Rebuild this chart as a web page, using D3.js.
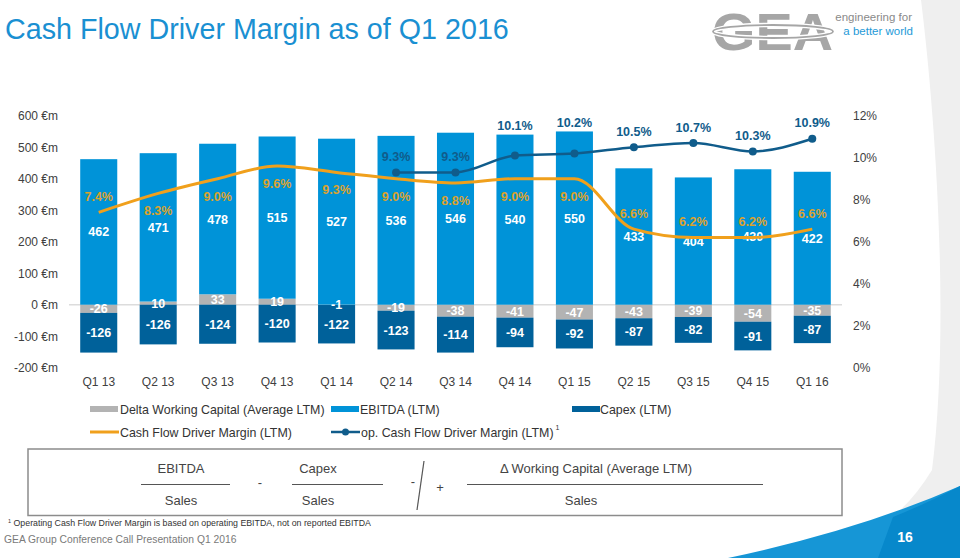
<!DOCTYPE html>
<html><head><meta charset="utf-8">
<script src="https://cdn.jsdelivr.net/npm/d3@7"></script>
<style>
html,body{margin:0;padding:0;background:#fff;}
svg{display:block;font-family:"Liberation Sans",Arial,Helvetica,sans-serif;}
</style></head><body>
<svg id="c" width="960" height="558"></svg>
<script>
const categories = ["Q1 13","Q2 13","Q3 13","Q4 13","Q1 14","Q2 14","Q3 14","Q4 14","Q1 15","Q2 15","Q3 15","Q4 15","Q1 16"];
const ebitda  = [462, 471, 478, 515, 527, 536, 546, 540, 550, 433, 404, 430, 422];
const deltaWC = [-26, 10, 33, 19, -1, -19, -38, -41, -47, -43, -39, -54, -35];
const capex   = [-126, -126, -124, -120, -122, -123, -114, -94, -92, -87, -82, -91, -87];
const cfdm    = [7.4, 8.3, 9.0, 9.6, 9.3, 9.0, 8.8, 9.0, 9.0, 6.6, 6.2, 6.2, 6.6];
const opCfdm  = [null, null, null, null, null, 9.3, 9.3, 10.1, 10.2, 10.5, 10.7, 10.3, 10.9];
const leftTicks  = [-200, -100, 0, 100, 200, 300, 400, 500, 600];
const rightTicks = [0, 2, 4, 6, 8, 10, 12];
const seriesNames = ["Delta Working Capital (Average LTM)", "EBITDA (LTM)", "Capex (LTM)", "Cash Flow Driver Margin (LTM)", "op. Cash Flow Driver Margin (LTM)"];

const FONT = '"Liberation Sans", Arial, Helvetica, sans-serif';
const C = {wc:"#b3b3b3", ebitda:"#0093d8", capex:"#00619a", orange:"#f0a01c", orangeText:"#dba22e", op:"#105c8b", text:"#404040"};

const svg = d3.select("#c");

// background decorations
svg.append("path").attr("d","M921,0 C936,120 950,330 932,470 Q912,503 887,521 Q925,505 960,486 L960,0 Z").attr("fill","#efefef");
svg.append("path").attr("d","M728,558 Q860,530 960,486 L960,558 Z").attr("fill","#1696d6");
svg.append("path").attr("d","M878,558 L893,517 Q930,502 960,486 L960,558 Z").attr("fill","#0788cb");

// title
svg.append("text").attr("x",5).attr("y",39).attr("font-size",28.7).attr("fill","#1a90d2").text("Cash Flow Driver Margin as of Q1 2016");

// logo
svg.append("text").attr("x",712).attr("y",50).attr("font-size",51).attr("font-weight","bold").attr("fill","#a6a6a6")
  .attr("textLength",121).attr("lengthAdjust","spacingAndGlyphs").text("GEA");
svg.append("ellipse").attr("cx",773).attr("cy",31.5).attr("rx",60).attr("ry",6.5).attr("fill","none").attr("stroke","#fff").attr("stroke-width",4.5);
svg.append("ellipse").attr("cx",773).attr("cy",31.5).attr("rx",60).attr("ry",6.5).attr("fill","none").attr("stroke","#a6a6a6").attr("stroke-width",1.8);
svg.append("text").attr("x",912).attr("y",21).attr("text-anchor","end").attr("font-size",11.5).attr("fill","#8a8a8a").text("engineering for");
svg.append("text").attr("x",913).attr("y",35).attr("text-anchor","end").attr("font-size",11.5).attr("fill","#1e9ad8").text("a better world");

// scales
const x = d3.scaleBand().domain(categories).range([69, 842]).paddingInner(0.377).paddingOuter(0.1885);
const y = d3.scaleLinear().domain([-200, 600]).range([367.7, 115.7]);
const yr = d3.scaleLinear().domain([0, 12]).range([367.7, 115.7]);
const cx = c => x(c) + x.bandwidth() / 2;

// axes
const gl = svg.append("g").attr("transform","translate(61,0)")
  .call(d3.axisLeft(y).tickValues(leftTicks).tickSize(0).tickPadding(3).tickFormat(d => d + " €m"));
gl.select(".domain").remove();
gl.attr("font-size",12).attr("font-family",FONT).selectAll("text").attr("fill",C.text);

const gr = svg.append("g").attr("transform","translate(850,0)")
  .call(d3.axisRight(yr).tickValues(rightTicks).tickSize(0).tickPadding(3).tickFormat(d => d + "%"));
gr.select(".domain").remove();
gr.attr("font-size",12).attr("font-family",FONT).selectAll("text").attr("fill",C.text);

const gx = svg.append("g").attr("transform","translate(0,367.7)")
  .call(d3.axisBottom(x).tickSize(0).tickPadding(10));
gx.select(".domain").remove();
gx.attr("font-size",12).attr("font-family",FONT).selectAll("text").attr("fill",C.text);

// zero line
svg.append("line").attr("x1",69).attr("x2",842).attr("y1",y(0)).attr("y2",y(0)).attr("stroke","#dcdcdc").attr("stroke-width",1.5);

// stacked bars
const table = categories.map((c,i) => ({cat:c, wc:deltaWC[i], ebitda:ebitda[i], capex:capex[i]}));
const stack = d3.stack().keys(["wc","ebitda","capex"]).offset(d3.stackOffsetDiverging)(table);
const colors = {wc:C.wc, ebitda:C.ebitda, capex:C.capex};
stack.forEach(s => {
  const g = svg.append("g");
  g.selectAll("rect").data(s).join("rect")
    .attr("x", d => x(d.data.cat)).attr("width", x.bandwidth())
    .attr("y", d => y(Math.max(d[0], d[1]))).attr("height", d => Math.abs(y(d[0]) - y(d[1])))
    .attr("fill", colors[s.key]);
});
stack.forEach(s => {
  svg.append("g").selectAll("text").data(s).join("text")
    .attr("x", d => cx(d.data.cat)).attr("y", d => (y(d[0]) + y(d[1])) / 2).attr("dy","0.36em")
    .attr("text-anchor","middle").attr("font-size",12.5).attr("font-weight","bold").attr("fill","#fff")
    .text(d => d.data[s.key]);
});

// lines
const line = d3.line().defined(d => d != null).x((d,i) => cx(categories[i])).y(d => yr(d)).curve(d3.curveMonotoneX);
svg.append("path").datum(cfdm).attr("d", line).attr("fill","none").attr("stroke",C.orange).attr("stroke-width",3);
svg.append("path").datum(opCfdm).attr("d", line).attr("fill","none").attr("stroke",C.op).attr("stroke-width",2.5);
svg.append("g").selectAll("circle").data(opCfdm.map((v,i)=>({v,i})).filter(d=>d.v!=null)).join("circle")
  .attr("cx", d => cx(categories[d.i])).attr("cy", d => yr(d.v)).attr("r",4).attr("fill",C.op);

// line labels
svg.append("g").selectAll("text").data(cfdm).join("text")
  .attr("x",(d,i)=>cx(categories[i]))
  .attr("y", d => d < 8 ? yr(d) - 16 : yr(d) + 17.5).attr("dy","0.36em")
  .attr("text-anchor","middle").attr("font-size",12.5).attr("font-weight","bold").attr("fill",C.orangeText)
  .text(d => d.toFixed(1) + "%");
svg.append("g").selectAll("text").data(opCfdm.map((v,i)=>({v,i})).filter(d=>d.v!=null)).join("text")
  .attr("x", d => cx(categories[d.i]))
  .attr("y", d => {
    let ly = yr(d.v) - 16;
    const top = y(ebitda[d.i] + Math.max(deltaWC[d.i], 0));
    if (Math.abs(ly - top) < 8) ly = top - 9;
    return ly;
  }).attr("dy","0.36em")
  .attr("text-anchor","middle").attr("font-size",12.5).attr("font-weight","bold").attr("fill",C.op)
  .text(d => d.v.toFixed(1) + "%");

// legend
const lg = svg.append("g").attr("font-size",12.4).attr("fill","#333");
const sw = (x0, yy, col) => lg.append("rect").attr("x",x0).attr("y",yy-3).attr("width",28).attr("height",6).attr("fill",col);
sw(90, 409, C.wc);   lg.append("text").attr("x",120).attr("y",413.5).text(seriesNames[0]);
sw(331, 409, C.ebitda); lg.append("text").attr("x",360).attr("y",413.5).text(seriesNames[1]);
sw(572, 409, C.capex); lg.append("text").attr("x",600).attr("y",413.5).text(seriesNames[2]);
lg.append("line").attr("x1",90).attr("x2",119).attr("y1",432).attr("y2",432).attr("stroke",C.orange).attr("stroke-width",3);
lg.append("text").attr("x",120).attr("y",436.5).text(seriesNames[3]);
lg.append("line").attr("x1",331).attr("x2",360).attr("y1",432).attr("y2",432).attr("stroke",C.op).attr("stroke-width",2.5);
lg.append("circle").attr("cx",345.5).attr("cy",432).attr("r",3.5).attr("fill",C.op);
const t5 = lg.append("text").attr("x",361).attr("y",436.5).text(seriesNames[4]);
t5.append("tspan").attr("font-size",7).attr("dy",-7).attr("dx",2).text("1");

// formula box
svg.append("rect").attr("x",28).attr("y",449).attr("width",814).attr("height",66.5).attr("fill","none").attr("stroke","#8c8c8c").attr("stroke-width",1.5);
const fg = svg.append("g").attr("font-size",13).attr("fill","#444").attr("text-anchor","middle");
const frac = (top, bottom, tx, bx, l1, l2) => {
  fg.append("text").attr("x",tx).attr("y",473).text(top);
  fg.append("line").attr("x1",l1).attr("x2",l2).attr("y1",484.5).attr("y2",484.5).attr("stroke","#555").attr("stroke-width",1.2);
  fg.append("text").attr("x",bx).attr("y",505).text(bottom);
};
frac("EBITDA","Sales",181,181,141,230);
frac("Capex","Sales",318,318,292,383);
frac("\u0394 Working Capital (Average LTM)","Sales",596,581,467,763);
fg.append("text").attr("x",260).attr("y",487).text("-");
fg.append("text").attr("x",413).attr("y",486).text("-");
fg.append("text").attr("x",440).attr("y",492).text("+");
fg.append("line").attr("x1",424).attr("y1",461).attr("x2",417).attr("y2",510).attr("stroke","#555").attr("stroke-width",1.2);

// footer
const ft = svg.append("text").attr("x",8).attr("y",526).attr("font-size",8.8).attr("fill","#333");
ft.append("tspan").attr("font-size",5.5).attr("dy",-3).text("1");
ft.append("tspan").attr("dy",3).text(" Operating Cash Flow Driver Margin is based on operating EBITDA, not on reported EBITDA");
svg.append("text").attr("x",4).attr("y",543).attr("font-size",10.3).attr("fill","#7a7a7a").text("GEA Group Conference Call Presentation Q1 2016");
svg.append("text").attr("x",905).attr("y",542).attr("text-anchor","middle").attr("font-size",14).attr("font-weight","bold").attr("fill","#fff").text("16");
</script>
</body></html>
